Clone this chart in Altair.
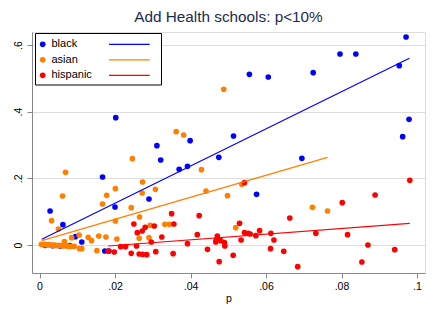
import altair as alt
import pandas as pd

groups = ["black", "asian", "hispanic"]
colors = ["#0000ff", "#ff8000", "#ff0000"]

black_x = [0.0971, 0.0953, 0.0796, 0.0838, 0.0725, 0.0556, 0.0606, 0.0514, 0.0979, 0.0962,
           0.0475, 0.0695, 0.0575, 0.0202, 0.0311, 0.0321, 0.0399, 0.0370, 0.0392, 0.0290,
           0.0200, 0.0167, 0.0173, 0.0184, 0.0028, 0.0062, 0.0095, 0.0112, 0.0015, 0.0035,
           0.0055, 0.0080]
black_y = [0.624, 0.538, 0.573, 0.573, 0.517, 0.512, 0.504, 0.327, 0.377, 0.325,
           0.263, 0.260, 0.152, 0.382, 0.298, 0.255, 0.313, 0.227, 0.236, 0.138,
           0.114, 0.204, -0.018, -0.018, 0.102, 0.061, 0.025, 0.009, -0.001, -0.002,
           -0.003, -0.002]

asian_x = [0.0488, 0.0362, 0.0382, 0.0246, 0.0273, 0.0272, 0.0307, 0.0429, 0.0441, 0.0201,
           0.0178, 0.0167, 0.0243, 0.0201, 0.0265, 0.0293, 0.0332, 0.0344, 0.0264, 0.0205,
           0.0176, 0.0157, 0.0129, 0.0138, 0.0105, 0.0085, 0.0152, 0.0032, 0.0050, 0.0061,
           0.0069, 0.0066, 0.0106, 0.0112, 0.0290, 0.0498, 0.0536, 0.0520, 0.0723, 0.0763,
           0.0005, 0.0010, 0.0015, 0.0020, 0.0025, 0.0030, 0.0035, 0.0040, 0.0045, 0.0050,
           0.0058, 0.0065, 0.0072, 0.0078, 0.0085, 0.0092]
asian_y = [0.467, 0.340, 0.330, 0.259, 0.189, 0.156, 0.167, 0.226, 0.162, 0.169,
           0.149, 0.123, 0.112, 0.072, 0.084, 0.059, 0.062, 0.062, 0.020, 0.018,
           0.024, 0.027, 0.023, 0.013, 0.030, 0.022, -0.017, 0.073, 0.048, 0.147,
           0.218, 0.010, -0.011, -0.011, 0.022, 0.148, 0.182, 0.052, 0.113, 0.102,
           0.002, 0.001, 0.002, 0.000, 0.001, 0.000, -0.001, 0.000, -0.002, -0.001,
           -0.002, -0.003, -0.003, -0.004, -0.004, -0.004]

hisp_x = [0.0182, 0.0198, 0.0215, 0.0228, 0.0243, 0.0257, 0.0250, 0.0259, 0.0272, 0.0280,
          0.0264, 0.0273, 0.0284, 0.0296, 0.0304, 0.0308, 0.0324, 0.0350, 0.0356, 0.0354,
          0.0392, 0.0418, 0.0423, 0.0445, 0.0468, 0.0471, 0.0474, 0.0467, 0.0480, 0.0490,
          0.0491, 0.0476, 0.0513, 0.0530, 0.0534, 0.0543, 0.0553, 0.0558, 0.0573, 0.0583,
          0.0613, 0.0621, 0.0612, 0.0647, 0.0663, 0.0684, 0.0732, 0.0543, 0.0981, 0.0889,
          0.0802, 0.0816, 0.0870, 0.0941, 0.0854]
hisp_y = [-0.018, -0.021, -0.005, -0.005, -0.025, -0.003, 0.063, 0.037, 0.042, 0.053,
          -0.027, -0.028, -0.029, 0.009, 0.057, -0.020, 0.024, 0.094, 0.063, -0.026,
          0.004, 0.031, 0.088, -0.013, 0.015, 0.027, 0.017, 0.009, 0.013, 0.007,
          -0.003, -0.050, -0.031, 0.065, 0.015, 0.037, 0.035, 0.033, 0.028, 0.043,
          0.035, 0.015, -0.011, -0.019, 0.081, -0.065, 0.035, 0.187, 0.194, 0.150,
          0.127, 0.031, 0.000, -0.014, -0.051]

# fitted-line endpoints (p, share) for each group
fit_black = [(0.0006, 0.017), (0.0980, 0.560)]
fit_asian = [(0.0006, 0.013), (0.0763, 0.263)]
fit_hisp = [(0.0182, -0.003), (0.0981, 0.065)]

pts = pd.concat([
    pd.DataFrame({"p": black_x, "share": black_y, "group": "black"}),
    pd.DataFrame({"p": asian_x, "share": asian_y, "group": "asian"}),
    pd.DataFrame({"p": hisp_x, "share": hisp_y, "group": "hispanic"}),
], ignore_index=True)

fits = []
for g, f in zip(groups, [fit_black, fit_asian, fit_hisp]):
    for (px, py) in f:
        fits.append({"p": px, "share": py, "group": g})
fits = pd.DataFrame(fits)

xscale = alt.Scale(domain=[-0.00199, 0.10212], nice=False, zero=False)
yscale = alt.Scale(domain=[-0.084, 0.639], nice=False, zero=False)
cscale = alt.Scale(domain=groups, range=colors)

xaxis = alt.Axis(values=[0, 0.02, 0.04, 0.06, 0.08, 0.1],
                 labelExpr="datum.value == 0 ? '0' : substring(format(datum.value, '.2~f'), 1)",
                 grid=False, title="p", tickSize=5, labelPadding=3, titlePadding=2,
                 labelFontSize=10.5, titleFontSize=10.5, titleFontWeight="normal")
yaxis = alt.Axis(values=[0, 0.2, 0.4, 0.6],
                 labelExpr="datum.value == 0 ? '0' : substring(format(datum.value, '.1~f'), 1)",
                 grid=True, title=None, tickSize=5, labelAngle=270, labelAlign="center",
                 labelBaseline="bottom", labelPadding=4, labelFontSize=10.5)

points = alt.Chart(pts).mark_circle(size=32, opacity=1).encode(
    x=alt.X("p:Q", scale=xscale, axis=xaxis),
    y=alt.Y("share:Q", scale=yscale, axis=yaxis),
    color=alt.Color("group:N", scale=cscale, legend=None),
)

lines = alt.Chart(fits).mark_line(strokeWidth=1.2).encode(
    x=alt.X("p:Q", scale=xscale),
    y=alt.Y("share:Q", scale=yscale),
    color=alt.Color("group:N", scale=cscale, legend=None),
    detail="group:N",
)

layers = [points, lines]

box = alt.Chart(pd.DataFrame({"g": ["box"]})).mark_rect(
    fill="white", stroke="black", strokeWidth=1).encode(
    x=alt.value(3.5), x2=alt.value(129.5), y=alt.value(1.5), y2=alt.value(53))
layers.append(box)

for i, (g, c) in enumerate(zip(groups, colors)):
    yy = 12.3 + 15.5 * i
    d = pd.DataFrame({"g": [g]})
    layers.append(alt.Chart(d).mark_circle(size=32, opacity=1, color=c).encode(
        x=alt.value(10.7), y=alt.value(yy)))
    layers.append(alt.Chart(d).mark_text(align="left", baseline="middle", fontSize=11,
                                         font="Liberation Sans", color="black").encode(
        x=alt.value(19.5), y=alt.value(yy), text="g:N"))
    layers.append(alt.Chart(d).mark_rule(color=c, strokeWidth=1.2).encode(
        x=alt.value(77), x2=alt.value(117.7), y=alt.value(yy)))

chart = alt.layer(*layers).properties(
    width=393, height=241,
    title=alt.TitleParams("Add Health schools: p<10%", fontSize=15.3, fontWeight="normal",
                          font="Liberation Sans", color="#1c2b4d", offset=7),
    autosize=alt.AutoSizeParams(type="none"),
    padding={"left": 24, "top": 24, "right": 3, "bottom": 36},
).configure_view(stroke=None).configure_axis(
    domainColor="#999999", domainWidth=1.5, tickColor="#555555", gridColor="#eaf2f3",
    labelColor="#222222", titleColor="#222222", labelFont="Liberation Sans",
    titleFont="Liberation Sans", titleFontWeight="normal",
).configure(background="white")

chart.save("out.html", embed_options={"renderer": "svg", "actions": False})
